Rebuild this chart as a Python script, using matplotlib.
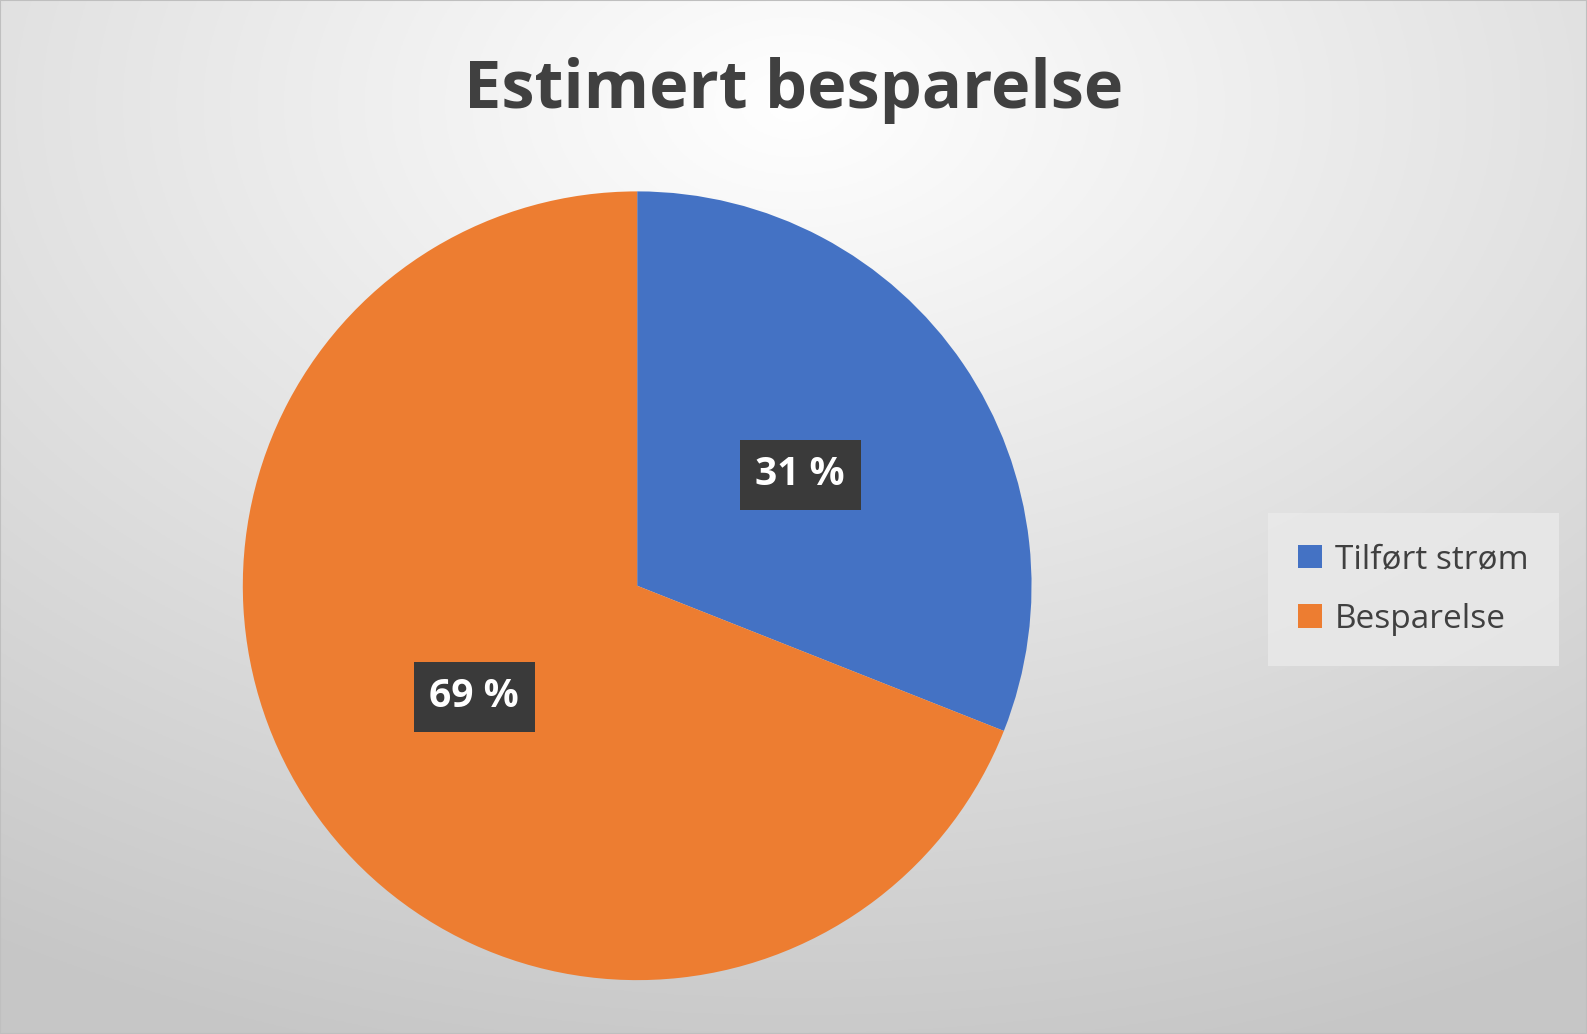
import numpy as np
import matplotlib.pyplot as plt
from matplotlib.patches import Rectangle

labels = ["Tilført strøm", "Besparelse"]
values = [31, 69]
colors = ["#4472C4", "#ED7D31"]
title = "Estimert besparelse"

plt.rcParams['font.family'] = ['Open Sans', 'DejaVu Sans']
fig = plt.figure(figsize=(15.87, 10.34), dpi=100)

# radial gradient background
bg = fig.add_axes([0, 0, 1, 1])
h, w = 400, 614
yy, xx = np.mgrid[0:h, 0:w]
cx, cy = w * 0.5, h * 0.1
d = np.sqrt(((xx - cx) / w) ** 2 + ((yy - cy) / h) ** 2)
g = 1.0 - 0.22 * np.clip(d / 0.95, 0, 1)
bg.imshow(np.dstack([g, g, g]), aspect='auto', extent=[0, 1, 0, 1], origin='upper')
bg.add_patch(Rectangle((0, 0), 1, 1, fill=False, ec='#BFBFBF', lw=1.5, transform=bg.transAxes))
bg.axis('off')

ax = fig.add_axes([0.153, 0.052, 0.497, 0.763])
wedges, _ = ax.pie(values, colors=colors, startangle=90, counterclock=False,
                   wedgeprops=dict(linewidth=0))
ax.set_xlim(-1, 1)
ax.set_ylim(-1, 1)
ax.set_aspect('equal')
for wdg, v in zip(wedges, values):
    ang = np.deg2rad((wdg.theta1 + wdg.theta2) / 2)
    r = 0.5
    ax.text(r * np.cos(ang), r * np.sin(ang), f"{v} %", ha='center', va='center',
            fontsize=28, fontweight='bold', color='white',
            bbox=dict(boxstyle='square,pad=0.4', fc='#3A3A3A', ec='none'))

fig.text(0.5, 0.912, title, ha='center', va='center', fontsize=48,
         fontweight='bold', color='#404040')

leg = fig.legend(wedges, labels, loc='center left', bbox_to_anchor=(0.795, 0.43),
                 fontsize=24, frameon=True, handlelength=0.7, handleheight=0.7,
                 labelspacing=0.8, borderpad=0.6, handletextpad=0.4)
leg.get_frame().set_facecolor('#EAEAEA')
leg.get_frame().set_edgecolor('none')
leg.get_frame().set_boxstyle('square')
for t in leg.get_texts():
    t.set_color('#404040')

fig.savefig('out.png', dpi=100)
